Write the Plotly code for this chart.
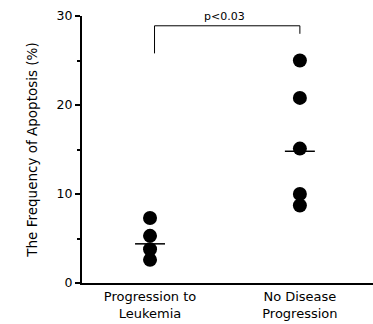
import plotly.graph_objects as go

categories = ["Progression to<br>Leukemia", "No Disease<br>Progression"]
group1_values = [7.3, 5.3, 3.8, 2.6]
group2_values = [25.0, 20.8, 15.1, 10.0, 8.7]
medians = [4.4, 14.8]
bracket_y = [25.8, 28.9, 28.9, 28.0]
p_label = "p<0.03"
y_ticks = [0, 10, 20, 30]

font = "DejaVu Sans, Arial, sans-serif"
fig = go.Figure()

for i, vals in enumerate([group1_values, group2_values]):
    fig.add_trace(go.Scatter(
        x=[i] * len(vals), y=vals, mode="markers",
        marker=dict(size=14, color="black"), showlegend=False, hoverinfo="y"))

hw = 0.1
for i, m in enumerate(medians):
    fig.add_trace(go.Scatter(
        x=[i - hw, i + hw], y=[m, m], mode="lines",
        line=dict(color="black", width=1.5), showlegend=False))

fig.add_trace(go.Scatter(
    x=[0.03, 0.03, 1, 1], y=bracket_y, mode="lines",
    line=dict(color="black", width=1), showlegend=False))

fig.add_annotation(x=0.5, y=bracket_y[1], text=p_label, showarrow=False,
                   yanchor="bottom", yshift=1, font=dict(size=11, color="black", family=font))

fig.update_layout(
    width=373, height=324,
    margin=dict(l=82, r=0, t=16, b=41),
    paper_bgcolor="white", plot_bgcolor="white",
    font=dict(family=font, size=12, color="black"),
    xaxis=dict(range=[-0.454, 1.488], tickvals=[0, 1], ticktext=categories,
               showgrid=False, zeroline=False, showline=True, linecolor="black",
               linewidth=2, ticks="", tickfont=dict(size=13)),
    yaxis=dict(range=[0, 30], tickvals=y_ticks, showgrid=False, zeroline=False,
               showline=True, linecolor="black", linewidth=2, ticks="outside",
               ticklen=5, tickwidth=1.5, tickcolor="black",
               tickfont=dict(size=12.5),
               title=dict(text="The Frequency of Apoptosis (%)",
                          font=dict(size=13.5), standoff=16),
               minor=dict(tickvals=[5, 15, 25], ticks="outside", ticklen=3, tickcolor="black")),
)

fig.write_html("out.html")
